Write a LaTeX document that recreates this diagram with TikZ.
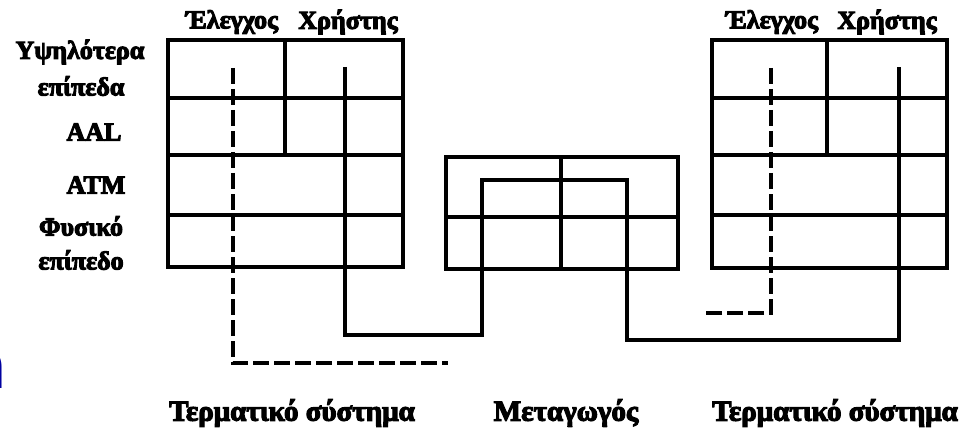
\documentclass[tikz,border=0pt]{standalone}
\usepackage{fontspec}
\setmainfont{Liberation Serif}
\newfontfamily\heavy[FakeBold=4]{Liberation Serif Bold}
\newfontfamily\bluefont{DejaVu Sans}
\begin{document}
\begin{tikzpicture}[x=1pt,y=-1pt,
  grid/.style={line width=3.6pt},
  conn/.style={line width=3.6pt},
  dconn/.style={line width=3.6pt, dash pattern=on 16pt off 5pt},
  lbl/.style={font=\heavy\fontsize{26}{28}\selectfont, inner sep=0pt},
  blbl/.style={font=\heavy\fontsize{29}{31}\selectfont, inner sep=0pt}]
\useasboundingbox (0,0) rectangle (964,433);
% left terminal stack
\draw[grid] (168,40) rectangle (403,267);
\foreach \y in {98,155,215} \draw[grid] (168,\y) -- (403,\y);
\draw[grid] (285,40) -- (285,155);
% switch
\draw[grid] (446,157) rectangle (678,269);
\draw[grid] (446,217) -- (678,217);
\draw[grid] (561,157) -- (561,269);
% right terminal stack
\draw[grid] (712,40) rectangle (947,268);
\foreach \y in {98,155,215} \draw[grid] (712,\y) -- (947,\y);
\draw[grid] (827,40) -- (827,155);
% connector coordinates
\coordinate (uL) at (345,67);
\coordinate (uR) at (899,67);
\coordinate (cL) at (233,68);
\coordinate (cLe) at (448,363);
\coordinate (cR) at (771,68);
\coordinate (cRe) at (705,313);
% user plane path
\draw[conn] (uL) -- (345,335) -- (482,335) -- (482,180) -- (627,180) -- (627,340) -- (899,340) -- (uR);
% control plane dashed
\draw[dconn] (cL) |- (cLe);
\draw[dconn] (cR) |- (cRe);
% labels
\node[lbl] (el1) at (232,22) {Έλεγχος};
\node[lbl] (xr1) at (348,22) {Χρήστης};
\node[lbl] (el2) at (772,22) {Έλεγχος};
\node[lbl] (xr2) at (887,22) {Χρήστης};
\node[lbl] (hl1) at (80,52) {Υψηλότερα};
\node[lbl] (hl2) at (81,86) {επίπεδα};
\node[lbl] (aal) at (94,132) {AAL};
\node[lbl] (atm) at (96,185) {ATM};
\node[lbl] (ph1) at (81,226) {Φυσικό};
\node[lbl] (ph2) at (81,260) {επίπεδο};
\node[blbl] (t1) at (292,413) {Τερματικό σύστημα};
\node[blbl] (sw) at (566,413) {Μεταγωγός};
\node[blbl] (t2) at (835,413) {Τερματικό σύστημα};
\node[font=\bluefont\fontsize{68}{68}\selectfont, text={rgb,255:red,0;green,0;blue,160}, anchor=base east, inner sep=0pt] (bl) at (8,388) {a};
\end{tikzpicture}
\end{document}
